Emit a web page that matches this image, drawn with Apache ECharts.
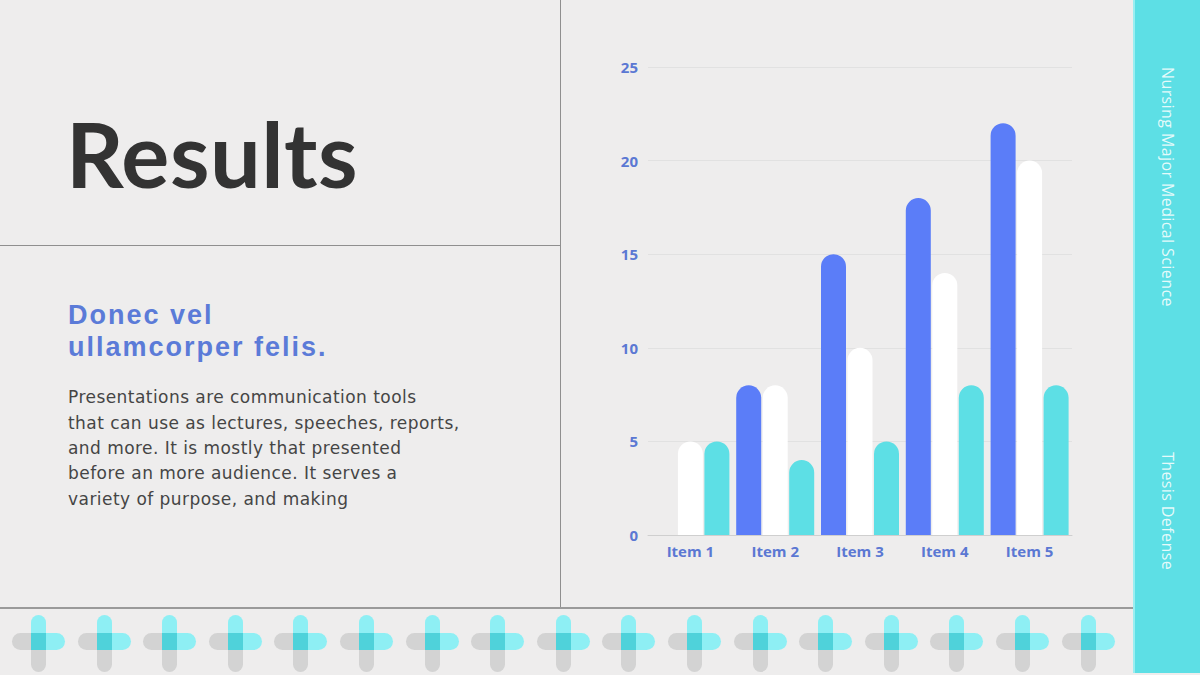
<!DOCTYPE html>
<html>
<head>
<meta charset="utf-8">
<script src="https://cdn.jsdelivr.net/npm/echarts@6/dist/echarts.min.js"></script>
<style>
html,body{margin:0;padding:0;width:1200px;height:675px;overflow:hidden;background:#eeeded;}
#wrap{position:relative;width:1200px;height:675px;background:#eeeded;}
#chart{position:absolute;left:0;top:0;width:1200px;height:675px;}
.line{position:absolute;background:#8f8f8f;}
#title{position:absolute;left:66px;top:103px;font-family:Lato,sans-serif;font-weight:700;font-size:90px;letter-spacing:0.5px;color:#333333;line-height:100px;white-space:nowrap;}
.sub{position:absolute;left:68px;font-family:"Liberation Sans",Arial,sans-serif;font-weight:700;font-size:27px;letter-spacing:2px;color:#5b7bd8;line-height:27px;white-space:nowrap;}
.bl{position:absolute;left:68px;font-family:"DejaVu Sans",sans-serif;font-size:17px;letter-spacing:0.45px;color:#454545;line-height:21px;white-space:nowrap;}
#side{position:absolute;left:1133px;top:0;width:67px;height:673px;background:#5ddfe5;border-left:2px solid #9aeef1;box-sizing:border-box;}
.vt{position:absolute;writing-mode:vertical-rl;font-family:"Open Sans",sans-serif;font-size:16px;letter-spacing:0.4px;color:rgba(255,255,255,0.85);left:22px;white-space:nowrap;}
.pc{position:absolute;}
</style>
</head>
<body>
<div id="wrap">
  <div class="line" style="left:560px;top:0;width:1px;height:608px;"></div>
  <div class="line" style="left:0;top:245px;width:560px;height:1px;"></div>
  <div class="line" style="left:0;top:607px;width:1133px;height:2px;background:#9a9a9a;"></div>
  <div id="title">Results</div>
  <div class="sub" style="top:301.5px;">Donec vel</div>
  <div class="sub" style="top:333.5px;">ullamcorper felis.</div>
  <div class="bl" style="top:387px;">Presentations are communication tools</div>
  <div class="bl" style="top:412.5px;">that can use as lectures, speeches, reports,</div>
  <div class="bl" style="top:438px;">and more. It is mostly that presented</div>
  <div class="bl" style="top:463px;">before an more audience. It serves a</div>
  <div class="bl" style="top:488.5px;">variety of purpose, and making</div>
  <div id="side">
    <div class="vt" style="top:67px;">Nursing Major Medical Science</div>
    <div class="vt" style="top:452px;">Thesis Defense</div>
  </div>
  <div id="deco"></div>
  <div id="chart"></div>
</div>
<script>
const categories = ['Item 1','Item 2','Item 3','Item 4','Item 5'];
const seriesBlue = [0, 8, 15, 18, 22];
const seriesWhite = [5, 8, 10, 14, 20];
const seriesCyan = [5, 4, 5, 8, 8];
const yTicks = {min:0, max:25, interval:5};

// decorative plus pattern
(function(){
  const deco = document.getElementById('deco');
  let html = '';
  for (let i = 0; i < 17; i++) {
    const x = 12 + i * 65.6;
    const vx = x + 19;
    html += `<div class="pc" style="left:${x}px;top:633px;width:34px;height:17px;background:#d3d3d3;border-radius:8.5px 0 0 8.5px;"></div>`;
    html += `<div class="pc" style="left:${vx}px;top:633px;width:15px;height:39px;background:#d3d3d3;border-radius:0 0 7.5px 7.5px;"></div>`;
    html += `<div class="pc" style="left:${vx}px;top:615px;width:15px;height:35px;background:#8eeff4;border-radius:7.5px 7.5px 0 0;"></div>`;
    html += `<div class="pc" style="left:${vx}px;top:633px;width:34px;height:17px;background:#8eeff4;border-radius:0 8.5px 8.5px 0;"></div>`;
    html += `<div class="pc" style="left:${vx}px;top:633px;width:15px;height:17px;background:#4fd2da;"></div>`;
  }
  deco.innerHTML = html;
})();

const chart = echarts.init(document.getElementById('chart'), null, {renderer:'svg'});
const labelStyle = {color:'#5b78d3', fontFamily:'"Open Sans", sans-serif', fontWeight:'bold', fontSize:15};
const radius = [12.5,12.5,0,0];
chart.setOption({
  animation:false,
  grid:{left:648, right:128, top:67, bottom:140, containLabel:false},
  xAxis:{type:'category', data:categories,
    axisLine:{lineStyle:{color:'#cfcfcf'}}, axisTick:{show:false},
    axisLabel:Object.assign({margin:8}, labelStyle)},
  yAxis:{type:'value', min:yTicks.min, max:yTicks.max, interval:yTicks.interval,
    axisLine:{show:false}, axisTick:{show:false},
    splitLine:{lineStyle:{color:'#e1e1e1'}},
    axisLabel:Object.assign({margin:10}, labelStyle)},
  series:[
    {type:'bar', name:'A', data:seriesBlue, barWidth:25, barGap:'6%', itemStyle:{color:'#5b7df8', borderRadius:radius}},
    {type:'bar', name:'B', data:seriesWhite, barWidth:25, barGap:'6%', itemStyle:{color:'#ffffff', borderRadius:radius}},
    {type:'bar', name:'C', data:seriesCyan, barWidth:25, barGap:'6%', itemStyle:{color:'#5ddfe5', borderRadius:radius}}
  ]
});
</script>
</body>
</html>
